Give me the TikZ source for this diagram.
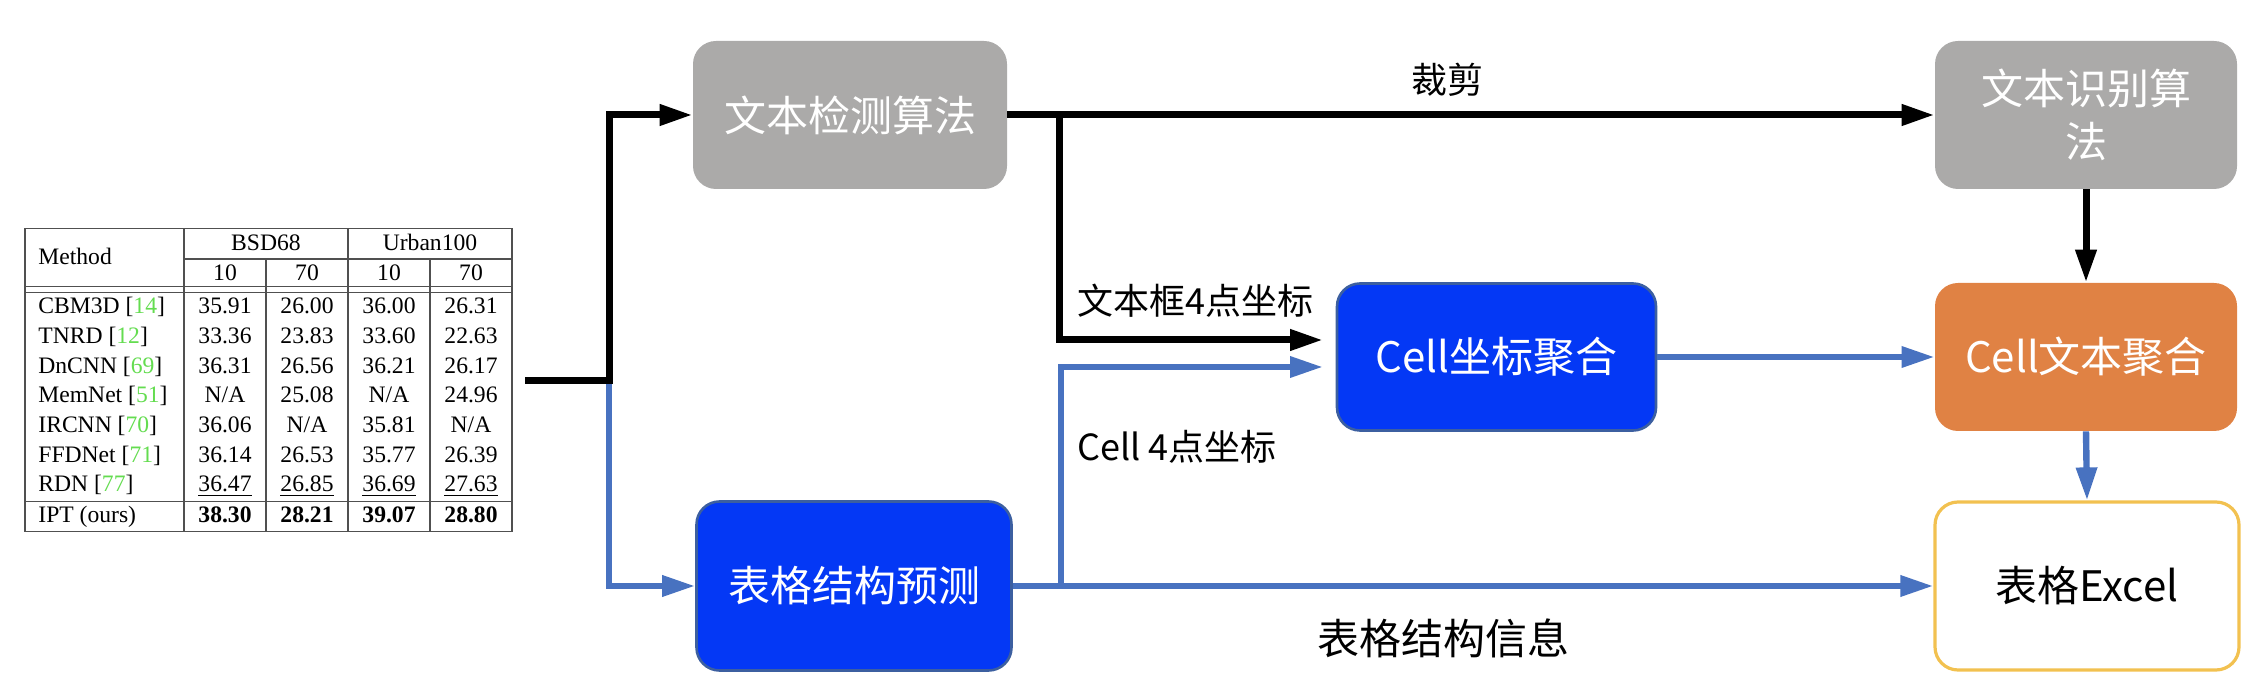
\documentclass[tikz,border=0pt]{standalone}
\usepackage{fontspec}
\setmainfont{Liberation Serif}
\newfontfamily\cjk{Noto Sans CJK SC}
\usetikzlibrary{arrows.meta}
\definecolor{boxgray}{RGB}{171,170,169}
\definecolor{boxblue}{RGB}{4,56,245}
\definecolor{boxblueline}{RGB}{60,95,160}
\definecolor{boxorange}{RGB}{224,130,68}
\definecolor{xlsline}{RGB}{242,193,80}
\definecolor{lineblue}{RGB}{72,114,192}
\definecolor{refgreen}{RGB}{100,220,80}
\definecolor{tblline}{RGB}{80,80,80}
\newcommand\tblrow[7]{%
  \node[tcell,anchor=west] (m#1) at (38,#2) {#3};
  \node[tcell] (a#1) at (225,#2) {#4};
  \node[tcell] (b#1) at (307,#2) {#5};
  \node[tcell] (c#1) at (389,#2) {#6};
  \node[tcell] (d#1) at (471,#2) {#7};}
\newcommand\rf[1]{[\textcolor{refgreen}{#1}]}
\begin{document}
\begin{tikzpicture}[x=0.5pt,y=-0.5pt,
  tcell/.style={inner sep=0pt,text height=8.4pt,text depth=0.6pt,font=\fontsize{11.8}{13}\selectfont},
  tline/.style={draw=tblline,line width=0.9pt},
  box/.style={rounded corners=11.5pt,inner sep=0pt,align=center,
    font=\cjk\fontsize{21}{26.5}\selectfont},
  graybox/.style={box,fill=boxgray,text=white},
  bluebox/.style={box,fill=boxblue,draw=boxblueline,line width=1.3pt,text=white},
  orangebox/.style={box,fill=boxorange,text=white},
  xlsbox/.style={box,fill=white,draw=xlsline,line width=1.6pt,text=black},
  tip/.style={-{Triangle[length=16.5pt,width=10pt]}},
  blk/.style={draw=black,line width=3.5pt,tip},
  blu/.style={draw=lineblue,line width=3.2pt,tip},
  lbl/.style={inner sep=0pt,font=\cjk\fontsize{18}{22}\selectfont},
]
\useasboundingbox (0,0) rectangle (2253,688);
% ---------- table ----------
\draw[tline] (25,228.5) rectangle (512,531.5);
\draw[tline] (25,286.5) -- (512,286.5);
\draw[tline] (25,292.5) -- (512,292.5);
\draw[tline] (25,501.5) -- (512,501.5);
\draw[tline] (184,259) -- (512,259);
\draw[tline] (184,228.5) -- (184,531.5);
\draw[tline] (348,228.5) -- (348,531.5);
\draw[tline] (266,259) -- (266,531.5);
\draw[tline] (430,259) -- (430,531.5);
\node[tcell,anchor=west] (hm) at (38,257) {Method};
\node[tcell] (hb) at (266,243) {BSD68};
\node[tcell] (hu) at (430,243) {Urban100};
\node[tcell] (h1) at (225,272.5) {10};
\node[tcell] (h2) at (307,272.5) {70};
\node[tcell] (h3) at (389,272.5) {10};
\node[tcell] (h4) at (471,272.5) {70};
\tblrow{1}{306}{CBM3D \rf{14}}{35.91}{26.00}{36.00}{26.31}
\tblrow{2}{336}{TNRD \rf{12}}{33.36}{23.83}{33.60}{22.63}
\tblrow{3}{365.5}{DnCNN \rf{69}}{36.31}{26.56}{36.21}{26.17}
\tblrow{4}{395}{MemNet \rf{51}}{N/A}{25.08}{N/A}{24.96}
\tblrow{5}{425}{IRCNN \rf{70}}{36.06}{N/A}{35.81}{N/A}
\tblrow{6}{454.5}{FFDNet \rf{71}}{36.14}{26.53}{35.77}{26.39}
\tblrow{7}{484}{RDN \rf{77}}{\underline{36.47}}{\underline{26.85}}{\underline{36.69}}{\underline{27.63}}
\tblrow{8}{515}{IPT (ours)}{\textbf{38.30}}{\textbf{28.21}}{\textbf{39.07}}{\textbf{28.80}}
% ---------- boxes ----------
\node[graybox,minimum width=157pt,minimum height=74pt] (det) at (850,115) {文本检测算法};
\node[bluebox,minimum width=157.5pt,minimum height=84.5pt] (tsp) at (854,586) {表格结构预测};
\node[bluebox,minimum width=159.5pt,minimum height=73.5pt] (cco) at (1496.5,357) {Cell坐标聚合};
\node[graybox,minimum width=151pt,minimum height=74pt] (rec) at (2086,115) {文本识别算\\法};
\node[orangebox,minimum width=151pt,minimum height=74pt] (cte) at (2086,357) {Cell文本聚合};
\node[xlsbox,minimum width=152pt,minimum height=84pt] (xls) at (2087,586) {表格Excel};
% ---------- connectors ----------
\coordinate (in) at (525,381);
\coordinate (j1) at (609,381);
\coordinate (j2) at (1059,115);
\coordinate (t1) at (1323,340);
\coordinate (j3) at (1061,586);
\coordinate (t2) at (1323,367);
\draw[blu] (j1) |- (tsp.west);
\draw[blk] (in) -- (j1) |- (det.west);
\draw[blk] (det.east) -- (rec.west);
\draw[blk] (j2) |- (t1);
\draw[blu] (tsp.east) -- (xls.west);
\draw[blu] (j3) |- (t2);
\draw[blu] (cco.east) -- (cte.west);
\draw[blk] (rec.south) -- (cte.north);
\draw[blu] (cte.south) -- (xls.north);
% ---------- labels ----------
\node[lbl] (l1) at (1447,80) {裁剪};
\node[lbl,anchor=west] (l2) at (1077,301) {文本框4点坐标};
\node[lbl,anchor=west] (l3) at (1077,447) {Cell 4点坐标};
\node[lbl,font=\cjk\fontsize{21}{25}\selectfont] (l4) at (1443,638) {表格结构信息};
\end{tikzpicture}
\end{document}
